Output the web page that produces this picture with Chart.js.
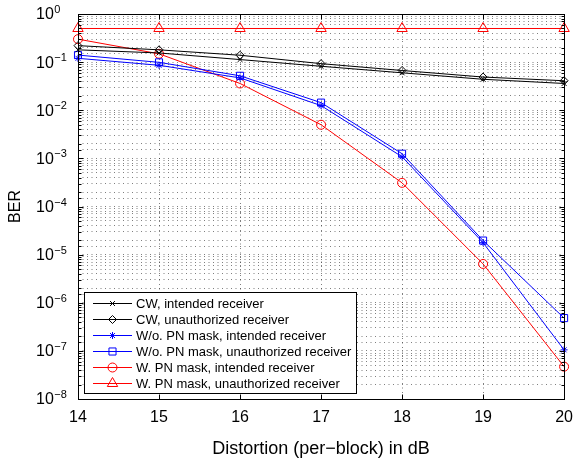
<!DOCTYPE html>
<html>
<head>
<meta charset="utf-8">
<script src="https://cdn.jsdelivr.net/npm/chart.js@4.4.1/dist/chart.umd.min.js"></script>
<style>
  html, body { margin: 0; padding: 0; background: #fff; }
  #berChart { display: block; }
</style>
</head>
<body>
<canvas id="berChart" width="582" height="460"></canvas>
<script>
// distortion steps (dB) and BER per curve
const distortion = [14, 15, 16, 17, 18, 19, 20];
const cwIntended = [0.18, 0.155, 0.113, 0.082, 0.06, 0.044, 0.036];
const cwUnauth = [0.22, 0.18, 0.139, 0.093, 0.067, 0.049, 0.041];
const noMaskIntended = [0.12, 0.086, 0.047, 0.0125, 1.08e-3, 1.77e-5, 1.05e-7];
const noMaskUnauth = [0.14, 0.099, 0.052, 0.0144, 1.25e-3, 1.96e-5, 4.8e-7];
const maskIntended = [0.30, 0.149, 0.036, 0.005, 3.1e-4, 6.4e-6, 4.7e-8];
const maskUnauth = [0.5, 0.5, 0.5, 0.5, 0.5, 0.5, 0.5];

const seriesNames = [
    "CW, intended receiver",
    "CW, unauthorized receiver",
    "W/o. PN mask, intended receiver",
    "W/o. PN mask, unauthorized receiver",
    "W. PN mask, intended receiver",
    "W. PN mask, unauthorized receiver"
];
const decadeExponents = [0, -1, -2, -3, -4, -5, -6, -7, -8];

const FONT = "'Liberation Sans', Arial, Helvetica, sans-serif";
Chart.defaults.font.family = FONT;
Chart.defaults.color = "#000";

function series(label, vals, color, style, radius) {
    return {
        label: label,
        data: vals.map((v, i) => ({ x: distortion[i], y: v })),
        borderColor: color,
        backgroundColor: "rgba(0,0,0,0)",
        pointBorderColor: color,
        pointBackgroundColor: "rgba(0,0,0,0)",
        borderWidth: 1,
        pointBorderWidth: 1,
        pointStyle: style,
        pointRadius: radius,
        tension: 0,
        clip: false
    };
}

/* -------- frame, inward ticks, y labels, legend -------- */
const decorations = {
    id: "decorations",
    afterDraw(chart) {
        const ctx = chart.ctx;
        const a = chart.chartArea;
        const xs = chart.scales.x, ys = chart.scales.y;
        const L = Math.round(a.left) + 0.5, R = Math.round(a.right) + 0.5;
        const T = Math.round(a.top) + 0.5, B = Math.round(a.bottom) + 0.5;
        ctx.save();
        ctx.setLineDash([]);
        ctx.strokeStyle = "#000";
        ctx.lineWidth = 1;
        ctx.strokeRect(L, T, R - L, B - T);

        ctx.beginPath();
        ys.ticks.forEach(t => {
            const lg = Math.log10(t.value);
            const major = Math.abs(lg - Math.round(lg)) < 1e-6;
            const len = major ? 5 : 3;
            const py = Math.round(ys.getPixelForValue(t.value)) + 0.5;
            ctx.moveTo(L, py); ctx.lineTo(L + len, py);
            ctx.moveTo(R, py); ctx.lineTo(R - len, py);
        });
        distortion.forEach(d => {
            const px = Math.round(xs.getPixelForValue(d)) + 0.5;
            ctx.moveTo(px, B); ctx.lineTo(px, B - 5);
            ctx.moveTo(px, T); ctx.lineTo(px, T + 5);
        });
        ctx.stroke();

        // y tick labels as 10 with a raised exponent
        ctx.fillStyle = "#000";
        ctx.textBaseline = "middle";
        ctx.textAlign = "left";
        decadeExponents.forEach(e => {
            const py = ys.getPixelForValue(Math.pow(10, e));
            ctx.font = "16px " + FONT;
            ctx.fillText("10", 36, py + 1);
            const w = ctx.measureText("10").width;
            ctx.font = "11px " + FONT;
            ctx.fillText(e === 0 ? "0" : "\u2212" + (-e), 36 + w + 0.5, py - 4);
        });

        // legend box
        const bx = 84.5, by = 292.5, bw = 272, bh = 101;
        ctx.fillStyle = "#fff";
        ctx.fillRect(bx, by, bw, bh);
        ctx.strokeRect(bx, by, bw, bh);
        ctx.font = "13px " + FONT;
        chart.data.datasets.forEach((ds, i) => {
            const ry = 303 + i * 16;
            ctx.strokeStyle = ds.borderColor;
            ctx.beginPath();
            ctx.moveTo(93, ry + 0.5); ctx.lineTo(132, ry + 0.5);
            ctx.stroke();
            ctx.fillStyle = "rgba(0,0,0,0)";
            Chart.helpers.drawPoint(ctx, {
                pointStyle: ds.pointStyle, radius: ds.pointRadius,
                rotation: 0, borderWidth: 1
            }, 112.5, ry + 0.5);
            ctx.fillStyle = "#000";
            ctx.fillText(ds.label, 136, ry + 1);
        });
        ctx.restore();
    }
};

new Chart(document.getElementById("berChart"), {
    type: "line",
    data: {
        datasets: [
            series(seriesNames[0], cwIntended, "#000000", "crossRot", 3.5),
            series(seriesNames[1], cwUnauth, "#000000", "rectRot", 4),
            series(seriesNames[2], noMaskIntended, "#0000ff", "star", 3.5),
            series(seriesNames[3], noMaskUnauth, "#0000ff", "rect", 5),
            series(seriesNames[4], maskIntended, "#ff0000", "circle", 4.5),
            series(seriesNames[5], maskUnauth, "#ff0000", "triangle", 6)
        ]
    },
    options: {
        responsive: false,
        animation: false,
        layout: { padding: { top: 14, right: 14, left: 0, bottom: 0 } },
        plugins: { legend: { display: false }, tooltip: { enabled: false } },
        scales: {
            x: {
                type: "linear",
                min: 14,
                max: 20,
                ticks: { stepSize: 1, font: { size: 16 }, color: "#000", padding: 9 },
                grid: { color: "rgba(0,0,0,0.5)", drawTicks: false },
                border: { display: false, dash: [1, 3.5] },
                title: {
                    display: true,
                    text: "Distortion (per\u2212block) in dB",
                    font: { size: 18 },
                    color: "#000",
                    padding: { top: 0, bottom: 0 }
                },
                afterFit: s => { s.height = 61; }
            },
            y: {
                type: "logarithmic",
                min: 1e-8,
                max: 1,
                ticks: { autoSkip: false, callback: () => "" },
                grid: { color: "rgba(0,0,0,0.5)", drawTicks: false },
                border: { display: false, dash: [1, 3.5] },
                title: {
                    display: true,
                    text: "BER",
                    font: { size: 16 },
                    color: "#000",
                    padding: { top: 6, bottom: 0 }
                },
                afterFit: s => { s.width = 78; }
            }
        }
    },
    plugins: [decorations]
});
</script>
</body>
</html>
